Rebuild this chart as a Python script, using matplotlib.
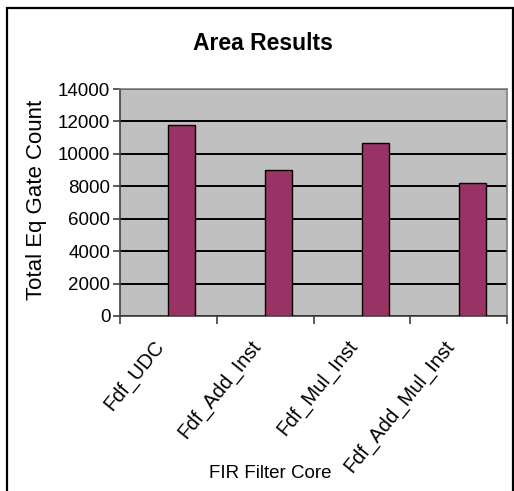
import matplotlib
matplotlib.use("Agg")
from matplotlib import pyplot as plt
from matplotlib import patches as mpatches
import numpy as np

cores = ["Fdf_UDC", "Fdf_Add_Inst", "Fdf_Mul_Inst", "Fdf_Add_Mul_Inst"]
gate_count = [11750, 9000, 10650, 8200]
y_ticks = [0, 2000, 4000, 6000, 8000, 10000, 12000, 14000]

plt.rcParams["font.family"] = ["Liberation Sans", "DejaVu Sans"]

fig = plt.figure(figsize=(5.14, 4.91), dpi=100)
ax = fig.add_axes([120 / 514, 1 - 316 / 491, 387 / 514, 227 / 491])
ax.set_facecolor("#C0C0C0")

x = np.arange(len(cores))
ax.bar(x, gate_count, width=0.28, align="edge", color="#993366",
       edgecolor="black", linewidth=1.0, zorder=3)

ax.set_xlim(-0.5, len(cores) - 0.5)
ax.set_ylim(0, 14000)
ax.set_yticks(y_ticks)
ax.set_yticklabels([str(v) for v in y_ticks], fontsize=13.5)
ax.yaxis.grid(True, color="black", linewidth=1.4, zorder=1)
ax.set_axisbelow(True)
ax.tick_params(axis="y", direction="out", length=5, width=1.2, color="#404040", pad=2)

# category boundaries get the tick marks, labels sit near the bar centers
ax.set_xticks(np.arange(-0.5, len(cores), 1.0), minor=True)
ax.set_xticks(x - 0.08)
ax.set_xticklabels(cores, rotation=51, ha="right", va="center",
                   rotation_mode="anchor", fontsize=14.5)
ax.tick_params(axis="x", which="major", length=0, pad=19)
ax.tick_params(axis="x", which="minor", direction="out", length=6, width=1.2,
               color="#404040")

for side in ["top", "right"]:
    ax.spines[side].set_color("#808080")
    ax.spines[side].set_linewidth(1.2)
ax.spines["left"].set_color("#404040")
ax.spines["bottom"].set_color("#404040")
ax.spines["left"].set_linewidth(1.2)
ax.spines["bottom"].set_linewidth(1.2)

fig.text(263 / 514, 1 - 43 / 491, "Area Results", ha="center", va="center",
         fontsize=16.5, fontweight="bold")
fig.text(37 / 514, 1 - 200 / 491, "Total Eq Gate Count", ha="center", va="center",
         rotation=90, fontsize=16)
fig.text(270 / 514, 1 - 473 / 491, "FIR Filter Core", ha="center", va="center",
         fontsize=13.5)

# outer chart frame
frame = mpatches.Rectangle((6.5 / 514, -0.05), (513 - 6.5) / 514, 1.05 - 8.5 / 491,
                           transform=fig.transFigure, fill=False,
                           edgecolor="black", linewidth=1.6, clip_on=False)
fig.patches.append(frame)

fig.savefig("out.png", dpi=100)
